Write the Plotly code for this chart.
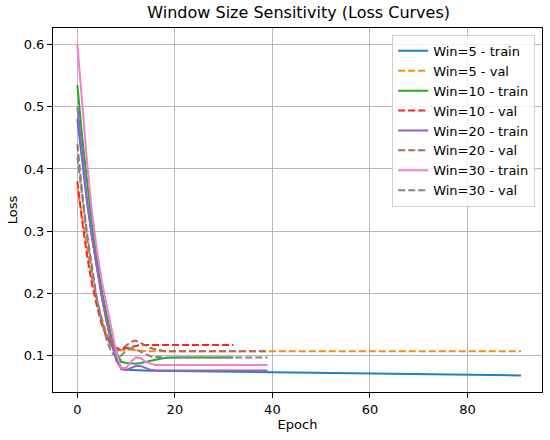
import plotly.graph_objects as go

# ---- data ----
win5_train = [0.480, 0.410, 0.345, 0.290, 0.240, 0.195, 0.155, 0.120, 0.092, 0.080,
              0.0770, 0.0765, 0.0762, 0.0760, 0.0758, 0.0757, 0.0756, 0.0755, 0.0754, 0.0753,
              0.0752, 0.0751, 0.0750, 0.0749, 0.0748, 0.0747, 0.0746, 0.0745, 0.0744, 0.0743,
              0.0742, 0.0741, 0.0740, 0.0739, 0.0738, 0.0737, 0.0736, 0.0735, 0.0734, 0.0733,
              0.0732, 0.0731, 0.0730, 0.0729, 0.0728, 0.0727, 0.0726, 0.0725, 0.0724, 0.0723,
              0.0722, 0.0721, 0.0720, 0.0719, 0.0718, 0.0717, 0.0716, 0.0715, 0.0714, 0.0713,
              0.0712, 0.0711, 0.0710, 0.0709, 0.0708, 0.0707, 0.0706, 0.0705, 0.0704, 0.0703,
              0.0702, 0.0701, 0.0700, 0.0699, 0.0698, 0.0697, 0.0696, 0.0695, 0.0694, 0.0693,
              0.0692, 0.0691, 0.0690, 0.0689, 0.0688, 0.0687, 0.0686, 0.0685, 0.0684, 0.0683,
              0.0682, 0.0681]
win5_val = [0.370, 0.320, 0.270, 0.225, 0.190, 0.160, 0.135, 0.120, 0.112, 0.108,
            0.110, 0.109, 0.108, 0.1075, 0.1072, 0.1070, 0.1070, 0.1070, 0.1069, 0.1069,
            0.1069, 0.1069, 0.1068, 0.1068, 0.1068, 0.1068, 0.1068, 0.1068, 0.1068, 0.1068,
            0.1068, 0.1068, 0.1068, 0.1068, 0.1068, 0.1068, 0.1068, 0.1068, 0.1068, 0.1068,
            0.1068, 0.1068, 0.1068, 0.1068, 0.1068, 0.1068, 0.1068, 0.1068, 0.1068, 0.1068,
            0.1068, 0.1068, 0.1068, 0.1068, 0.1068, 0.1068, 0.1068, 0.1068, 0.1068, 0.1068,
            0.1068, 0.1068, 0.1068, 0.1068, 0.1068, 0.1068, 0.1068, 0.1068, 0.1068, 0.1068,
            0.1068, 0.1068, 0.1068, 0.1068, 0.1068, 0.1068, 0.1068, 0.1068, 0.1068, 0.1068,
            0.1068, 0.1068, 0.1068, 0.1068, 0.1068, 0.1068, 0.1068, 0.1068, 0.1068, 0.1068,
            0.1068, 0.1068]
win10_train = [0.535, 0.450, 0.380, 0.310, 0.255, 0.205, 0.165, 0.130, 0.105, 0.090,
               0.088, 0.087, 0.087, 0.088, 0.090, 0.092, 0.094, 0.095, 0.096, 0.097,
               0.097, 0.097, 0.097, 0.097, 0.097, 0.097, 0.097, 0.097, 0.097, 0.097,
               0.097, 0.097, 0.097]
win10_val = [0.380, 0.315, 0.260, 0.215, 0.180, 0.150, 0.130, 0.118, 0.112, 0.110,
             0.112, 0.114, 0.116, 0.117, 0.117, 0.117, 0.117, 0.117, 0.117, 0.117,
             0.117, 0.117, 0.117, 0.117, 0.117, 0.117, 0.117, 0.117, 0.117, 0.117,
             0.117, 0.117, 0.117]
win20_train = [0.500, 0.420, 0.350, 0.290, 0.240, 0.195, 0.155, 0.120, 0.095, 0.078,
               0.077, 0.080, 0.083, 0.083, 0.080, 0.077, 0.076, 0.076, 0.076, 0.076,
               0.076, 0.076, 0.076, 0.076, 0.076, 0.076, 0.076, 0.076, 0.076, 0.076,
               0.076, 0.076, 0.076, 0.076, 0.076, 0.076, 0.076, 0.076, 0.076, 0.076]
win20_val = [0.440, 0.360, 0.295, 0.240, 0.190, 0.155, 0.130, 0.115, 0.108, 0.110,
             0.116, 0.122, 0.124, 0.120, 0.116, 0.112, 0.110, 0.108, 0.107, 0.107,
             0.107, 0.107, 0.107, 0.107, 0.107, 0.107, 0.107, 0.107, 0.107, 0.107,
             0.107, 0.107, 0.107, 0.107, 0.107, 0.107, 0.107, 0.107, 0.107, 0.107]
win30_train = [0.600, 0.500, 0.410, 0.330, 0.270, 0.220, 0.180, 0.140, 0.105, 0.080,
               0.080, 0.090, 0.097, 0.096, 0.090, 0.087, 0.085, 0.085, 0.085, 0.085,
               0.085, 0.085, 0.085, 0.085, 0.085, 0.085, 0.085, 0.085, 0.085, 0.085,
               0.085, 0.085, 0.085, 0.085, 0.085, 0.085, 0.085, 0.085, 0.085, 0.085]
win30_val = [0.420, 0.350, 0.290, 0.235, 0.190, 0.155, 0.125, 0.105, 0.097, 0.100,
             0.108, 0.112, 0.110, 0.106, 0.102, 0.099, 0.098, 0.097, 0.097, 0.097,
             0.097, 0.097, 0.097, 0.097, 0.097, 0.097, 0.097, 0.097, 0.097, 0.097,
             0.097, 0.097, 0.097, 0.097, 0.097, 0.097, 0.097, 0.097, 0.097, 0.097]

series_names = ["Win=5 - train", "Win=5 - val", "Win=10 - train", "Win=10 - val",
                "Win=20 - train", "Win=20 - val", "Win=30 - train", "Win=30 - val"]
series_values = [win5_train, win5_val, win10_train, win10_val,
                 win20_train, win20_val, win30_train, win30_val]
colors = ["#1f80c4", "#ff8a12", "#1cb01c", "#ff2222",
          "#9a60cc", "#a86a5c", "#f67ccc", "#858585"]

x_ticks = [0, 20, 40, 60, 80]
y_ticks = [0.1, 0.2, 0.3, 0.4, 0.5, 0.6]

fig = go.Figure()
for i, (name, vals) in enumerate(zip(series_names, series_values)):
    dashed = name.endswith("val")
    fig.add_trace(go.Scatter(
        x=list(range(len(vals))), y=vals, mode="lines", name=name,
        line=dict(color=colors[i], width=2, dash="7px,3px" if dashed else "solid"),
    ))

axis_common = dict(
    showline=True, linecolor="black", linewidth=1, mirror=True,
    showgrid=True, gridcolor="#b8b8b8", gridwidth=1,
    ticks="outside", ticklen=5, tickcolor="black", tickwidth=1,
    zeroline=False, tickfont=dict(size=13, color="black"),
)
fig.update_xaxes(range=[-5.0, 95.3], tickvals=x_ticks,
                 title=dict(text="Epoch", font=dict(size=13, color="black"), standoff=4),
                 **axis_common)
fig.update_yaxes(range=[0.0414, 0.6266], tickvals=y_ticks, tickformat=".1f",
                 title=dict(text="Loss", font=dict(size=13, color="black"), standoff=3),
                 **axis_common)

fig.update_layout(
    width=550, height=440,
    margin=dict(l=53, r=8, t=28, b=48),
    paper_bgcolor="white", plot_bgcolor="white",
    font=dict(family="DejaVu Sans", size=13, color="black"),
    title=dict(text="Window Size Sensitivity (Loss Curves)", x=0.543, xanchor="center",
               y=0.972, yanchor="middle", font=dict(size=16, color="black")),
    legend=dict(x=0.986, y=0.981, xanchor="right", yanchor="top",
                bgcolor="rgba(255,255,255,0.8)", bordercolor="#d0d0d0", borderwidth=1,
                font=dict(size=13), tracegroupgap=0, itemwidth=30),
    showlegend=True,
)

fig.write_html("out.html", config={"displayModeBar": False},
               post_script="document.body.style.margin='0';document.body.style.overflow='hidden';")
